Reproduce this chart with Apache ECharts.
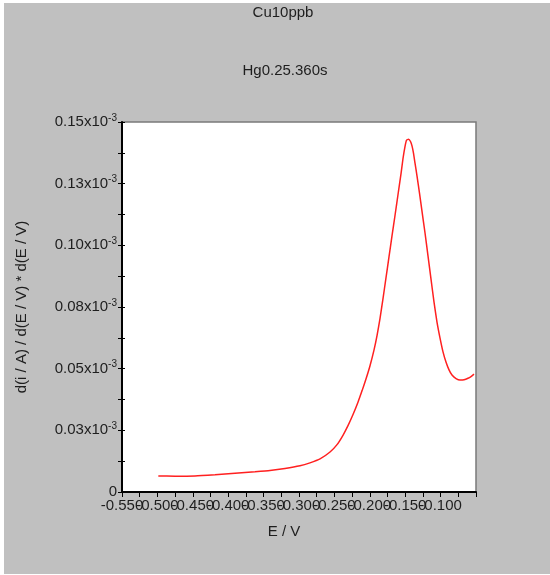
<!DOCTYPE html>
<html>
<head>
<meta charset="utf-8">
<script src="https://cdn.jsdelivr.net/npm/echarts@6/dist/echarts.min.js"></script>
<style>
  html, body { margin: 0; padding: 0; background: #ffffff; width: 550px; height: 575px; overflow: hidden; }
  #chart { position: absolute; left: 4px; top: 3px; width: 546px; height: 571px; background: #c0c0c0; }
</style>
</head>
<body>
<div id="chart"></div>
<script>
// Title texts
const mainTitle = 'Cu10ppb';
const subTitle = 'Hg0.25.360s';
const xAxisName = 'E / V';
const yAxisName = 'd(i / A) / d(E / V) * d(E / V)';

// Axis ranges (x in V, y in units of 1e-3)
const xMin = -0.55, xMax = -0.05, xStep = 0.05;
const yMin = 0, yMax = 0.15, yStep = 0.025;
const yExponent = '-3';

// Series: potential (V) and derivative current (x10^-3)
const potential = [
  -0.4987, -0.4751, -0.4469, -0.4186, -0.3904, -0.3621, -0.3410, -0.3198, -0.2986, -0.2845,
  -0.2703, -0.2562, -0.2463, -0.2379, -0.2308, -0.2237, -0.2167, -0.2110, -0.2054, -0.1997,
  -0.1941, -0.1898, -0.1856, -0.1814, -0.1771, -0.1729, -0.1686, -0.1644, -0.1602, -0.1559,
  -0.1531, -0.1503, -0.1482, -0.1453, -0.1425, -0.1404, -0.1383, -0.1362, -0.1333, -0.1298,
  -0.1263, -0.1220, -0.1178, -0.1136, -0.1093, -0.1051, -0.1008, -0.0966, -0.0924, -0.0881,
  -0.0839, -0.0782, -0.0726, -0.0669, -0.0613, -0.0571, -0.0528
];
const current = [
  0.0065, 0.0064, 0.0065, 0.0070, 0.0076, 0.0082, 0.0087, 0.0095, 0.0106, 0.0118,
  0.0134, 0.0162, 0.0192, 0.0230, 0.0269, 0.0314, 0.0364, 0.0410, 0.0458, 0.0512,
  0.0575, 0.0634, 0.0703, 0.0783, 0.0869, 0.0953, 0.1039, 0.1121, 0.1205, 0.1291,
  0.1352, 0.1400, 0.1426, 0.1430, 0.1421, 0.1403, 0.1374, 0.1334, 0.1281, 0.1212,
  0.1139, 0.1050, 0.0957, 0.0864, 0.0770, 0.0689, 0.0624, 0.0568, 0.0527, 0.0495,
  0.0474, 0.0460, 0.0454, 0.0455, 0.0461, 0.0468, 0.0478
];

const seriesData = potential.map((e, i) => [e, current[i]]);

const txtColor = '#1e1e1e';
const font = '"Liberation Sans", Arial, sans-serif';

function fmtY(v) {
  if (Math.abs(v) < 1e-12) return '0';
  const r = Math.round(v * 100 + 1e-6) / 100;
  return '{b|' + r.toFixed(2) + 'x10}{s|' + yExponent + '}';
}
function fmtX(v) {
  return (Math.round(v * 1000) / 1000).toFixed(3);
}
function fmtXMinOnly(v) {
  return Math.abs(v - xMin) < 1e-9 ? fmtX(v) : '';
}

const labelCommon = { margin: 6, fontSize: 15, color: txtColor, fontFamily: font };

const chart = echarts.init(document.getElementById('chart'), null, { renderer: 'canvas' });
chart.setOption({
  backgroundColor: '#c0c0c0',
  animation: false,
  textStyle: { fontFamily: font, color: txtColor },
  title: [
    { text: mainTitle, left: 279, top: 1, textAlign: 'center', padding: 0,
      textStyle: { fontSize: 15, fontWeight: 'normal', color: txtColor, fontFamily: font, lineHeight: 18 } },
    { text: subTitle, left: 281, top: 59, textAlign: 'center', padding: 0,
      textStyle: { fontSize: 15, fontWeight: 'normal', color: txtColor, fontFamily: font, lineHeight: 18 } },
    { text: xAxisName, left: 280, top: 520, textAlign: 'center', padding: 0,
      textStyle: { fontSize: 15, fontWeight: 'normal', color: txtColor, fontFamily: font, lineHeight: 18 } }
  ],
  grid: {
    left: 118, top: 119, width: 354, height: 370,
    show: true, backgroundColor: '#ffffff', borderColor: '#7a7a7a', borderWidth: 1.5
  },
  xAxis: [{
    type: 'value', min: xMin, max: xMax, interval: xStep, position: 'bottom',
    axisLine: { show: true, onZero: false, lineStyle: { color: '#000', width: 2 } },
    axisTick: { show: true, length: 5, lineStyle: { color: '#000', width: 1 } },
    minorTick: { show: true, splitNumber: 2, length: 5, lineStyle: { color: '#000', width: 1 } },
    splitLine: { show: false },
    axisLabel: Object.assign({
      show: true, interval: 0, hideOverlap: false, showMaxLabel: false, showMinLabel: false,
      formatter: fmtX
    }, labelCommon)
  }, {
    type: 'value', min: xMin, max: xMax, interval: xStep, position: 'bottom',
    axisLine: { show: false, onZero: false },
    axisTick: { show: false },
    splitLine: { show: false },
    axisLabel: Object.assign({
      show: true, interval: 0, hideOverlap: false, showMaxLabel: false, showMinLabel: true,
      formatter: fmtXMinOnly
    }, labelCommon)
  }],
  yAxis: [{
    type: 'value', min: yMin, max: yMax, interval: yStep, position: 'left',
    name: yAxisName, nameLocation: 'middle', nameGap: 93, nameRotate: 90,
    nameTextStyle: { fontSize: 15, color: txtColor, fontFamily: font },
    axisLine: { show: true, lineStyle: { color: '#000', width: 2 } },
    axisTick: { show: true, length: 4, lineStyle: { color: '#000', width: 1 } },
    minorTick: { show: true, splitNumber: 2, length: 4, lineStyle: { color: '#000', width: 1 } },
    splitLine: { show: false },
    axisLabel: {
      show: true, margin: 5, fontSize: 15, color: txtColor, fontFamily: font,
      formatter: fmtY,
      rich: {
        b: { fontSize: 15, color: txtColor, fontFamily: font, lineHeight: 18 },
        s: { fontSize: 10, color: txtColor, fontFamily: font, lineHeight: 18, verticalAlign: 'top', padding: [0, 0, 9, 0] }
      }
    }
  }, {
    type: 'value', min: yMin, max: yMax, interval: yStep, position: 'left', offset: 0,
    axisLine: { show: false },
    axisTick: { show: true, inside: true, length: 3, lineStyle: { color: '#000', width: 1 } },
    minorTick: { show: true, splitNumber: 2, length: 3, lineStyle: { color: '#000', width: 1 } },
    splitLine: { show: false },
    axisLabel: { show: false }
  }],
  series: [{
    type: 'line', data: seriesData, showSymbol: false, smooth: 0.15, xAxisIndex: 0, yAxisIndex: 0,
    lineStyle: { color: '#ff2020', width: 1.5 }, clip: true
  }]
});
</script>
</body>
</html>
